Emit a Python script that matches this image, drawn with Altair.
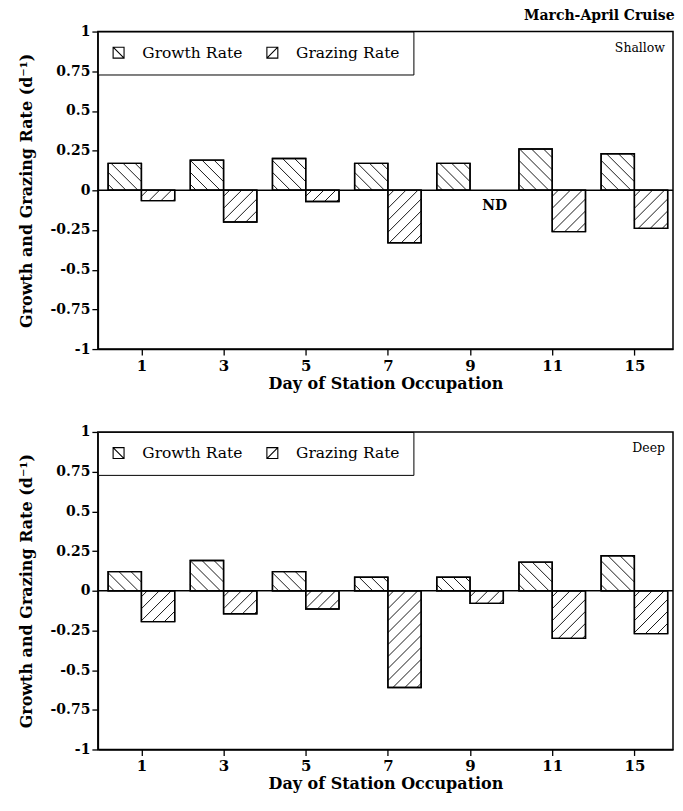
import json
import altair as alt
import pandas as pd

# ---------------- data ----------------
days = ["1", "3", "5", "7", "9", "11", "15"]
series = ["Growth Rate", "Grazing Rate"]
shallow_growth = [0.17, 0.19, 0.20, 0.17, 0.17, 0.26, 0.23]
shallow_grazing = [-0.065, -0.20, -0.07, -0.33, None, -0.26, -0.24]  # None = ND
deep_growth = [0.12, 0.19, 0.12, 0.085, 0.085, 0.18, 0.22]
deep_grazing = [-0.195, -0.145, -0.115, -0.61, -0.08, -0.30, -0.27]
y_ticks = [-1, -0.75, -0.5, -0.25, 0, 0.25, 0.5, 0.75, 1]

# ---------------- layout / style ----------------
W, H = 576, 318
BAR = 0.405          # bar width in band units
SP = 12.0            # hatch spacing in px (horizontal)
X_DOMAIN = [-0.53, 6.47]
SX = W / (X_DOMAIN[1] - X_DOMAIN[0])
SY = H / 2.0
FONT = "DejaVu Serif"

P_GROWTH = "M-1,-1L1,-1L1,1L-1,1Z M-1,-1L1,1"
P_GRAZING = "M-1,-1L1,-1L1,1L-1,1Z M-1,1L1,-1"


def hatch(xa, xb, v, kind):
    w = (xb - xa) * SX
    h = abs(v) * SY
    yb = min(0.0, v)
    segs = []
    if kind == "back":  # "\" lines: x + y = c (y up)
        c = SP / 2
        while c < w + h:
            x0, x1 = max(0.0, c - h), min(w, c)
            if x1 > x0:
                segs.append((x0, c - x0, x1, c - x1))
            c += SP
    else:  # "/" lines: x - y = c
        c = -h + SP / 2
        while c < w:
            x0, x1 = max(0.0, c), min(w, c + h)
            if x1 > x0:
                segs.append((x0, x0 - c, x1, x1 - c))
            c += SP
    return [
        {"x": xa + a / SX, "y": yb + b / SY, "x2": xa + cc / SX, "y2": yb + d / SY}
        for a, b, cc, d in segs
    ]


xscale = alt.Scale(domain=X_DOMAIN, nice=False, zero=False)
yscale = alt.Scale(domain=[-1, 1], nice=False, zero=False)
xaxis = alt.Axis(
    values=list(range(len(days))),
    labelExpr=json.dumps(days) + "[datum.value]",
    title="Day of Station Occupation",
    grid=False,
    labelPadding=3,
    titlePadding=2,
    labelOverlap=False,
    labelFontSize=15,
)
yaxis = alt.Axis(
    values=y_ticks,
    labelExpr="toString(datum.value)",
    title="Growth and Grazing Rate (d⁻¹)",
    grid=False,
    titlePadding=16,
    labelPadding=2,
    labelOverlap=False,
    labelFontSize=14,
)


def X(f):
    return alt.X(f, scale=xscale, axis=xaxis)


def Y(f):
    return alt.Y(f, scale=yscale, axis=yaxis)


def panel(growth, grazing, label):
    bar_rows, hatch_rows, nd_rows = [], [], []
    for i, d in enumerate(days):
        for s, vals, xa, xb, kind in (
            (series[0], growth, i - BAR, i, "back"),
            (series[1], grazing, i, i + BAR, "fwd"),
        ):
            v = vals[i]
            if v is None:
                nd_rows.append({"x": (xa + xb) / 2, "y": 0.0, "day": d})
                continue
            bar_rows.append({"x": xa, "x2": xb, "y": 0.0, "y2": v, "series": s, "day": d})
            hatch_rows.extend(hatch(xa, xb, v, kind))
    bars_df = pd.DataFrame(bar_rows)
    hatch_df = pd.DataFrame(hatch_rows)
    one = pd.DataFrame({"label": [label], "y": [0.0]})

    bars = alt.Chart(bars_df).mark_rect(
        fill="white", stroke="black", strokeWidth=1.4
    ).encode(x=X("x:Q"), x2="x2", y=Y("y:Q"), y2="y2")
    hatches = alt.Chart(hatch_df).mark_rule(color="black", strokeWidth=0.9).encode(
        x=X("x:Q"), x2="x2", y=Y("y:Q"), y2="y2"
    )
    outline = alt.Chart(bars_df).mark_rect(
        fill=None, filled=False, stroke="black", strokeWidth=1.4
    ).encode(x=X("x:Q"), x2="x2", y=Y("y:Q"), y2="y2")
    zero = alt.Chart(one).mark_rule(color="black", strokeWidth=1.6).encode(y=Y("y:Q"))
    legend_layer = alt.Chart(bars_df).mark_point(
        opacity=0, filled=False, color="black"
    ).encode(
        x=X("x:Q"),
        y=Y("y:Q"),
        shape=alt.Shape(
            "series:N",
            scale=alt.Scale(domain=series, range=[P_GROWTH, P_GRAZING]),
            legend=alt.Legend(
                title=None,
                orient="top-left",
                direction="horizontal",
                offset=0,
                padding=13,
                strokeColor="black",
                fillColor="white",
                symbolSize=120,
                symbolStrokeWidth=1.1,
                symbolOpacity=1,
                symbolStrokeColor="black",
                symbolFillColor="white",
                labelFont=FONT,
                labelFontSize=15.5,
                labelColor="black",
                labelOffset=16,
                columnPadding=22,
            ),
        ),
    )
    tag = alt.Chart(one).mark_text(
        align="right", baseline="middle", font=FONT, fontSize=12.5, color="black"
    ).encode(x=alt.value(W - 8), y=alt.value(16), text="label:N")

    layers = [bars, hatches, outline, zero, legend_layer, tag]
    if nd_rows:
        nd = alt.Chart(pd.DataFrame(nd_rows)).mark_text(
            text="ND", font=FONT, fontSize=14, fontWeight="bold", color="black", dy=16, dx=8
        ).encode(x=X("x:Q"), y=Y("y:Q"))
        layers.append(nd)
    return alt.layer(*layers).properties(width=W, height=H)


top = panel(shallow_growth, shallow_grazing, "Shallow")
bottom = panel(deep_growth, deep_grazing, "Deep")

chart = (
    alt.vconcat(top, bottom, spacing=32)
    .resolve_legend(shape="independent")
    .resolve_scale(shape="independent")
    .properties(
        padding={"left": 9, "top": 0, "right": 0, "bottom": 0},
        title=alt.TitleParams(
            "March-April Cruise",
            anchor="end",
            font=FONT,
            fontSize=14,
            fontWeight="bold",
            color="black",
            offset=1,
        ),
    )
    .configure_view(stroke="black", strokeWidth=1.5)
    .configure_axis(
        labelFont=FONT,
        labelFontWeight="bold",
        labelColor="black",
        titleFont=FONT,
        titleFontSize=16,
        titleFontWeight="bold",
        titleColor="black",
        domainColor="black",
        domainWidth=1.5,
        tickColor="black",
        tickWidth=1.3,
        tickSize=6,
    )
)

chart.save("out.html", embed_options={"renderer": "svg", "actions": False})
